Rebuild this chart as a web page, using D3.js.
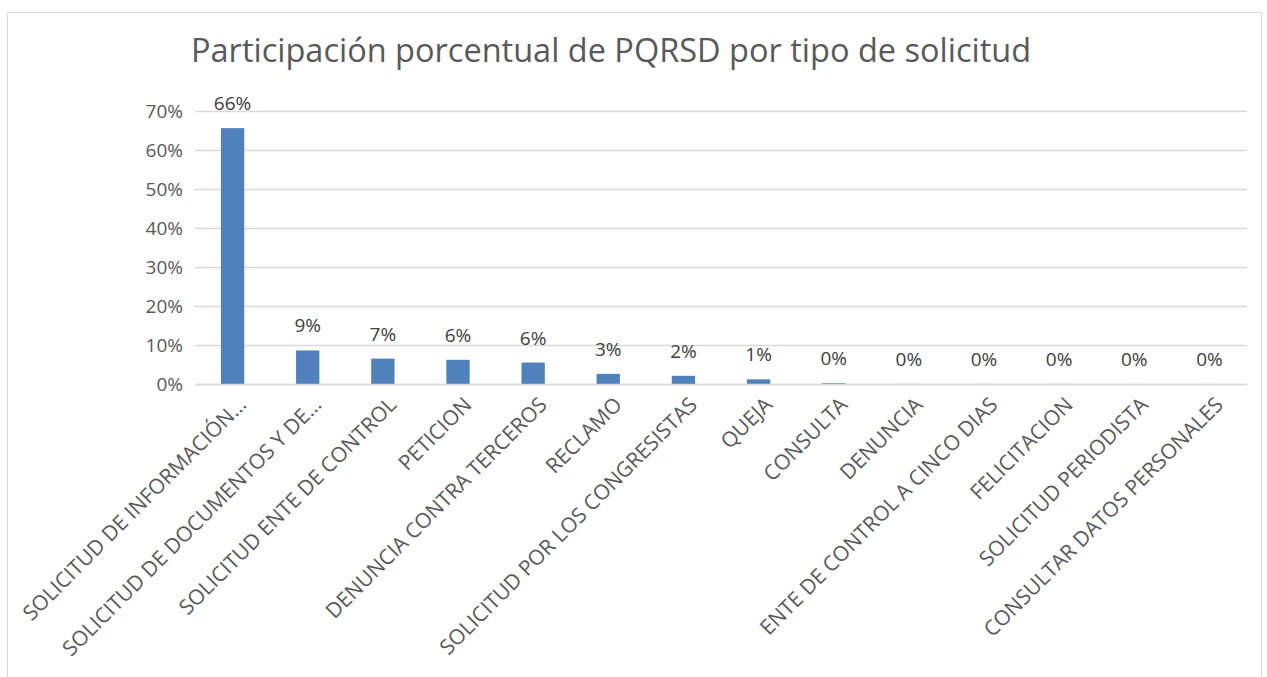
<!DOCTYPE html>
<html><head><meta charset="utf-8">
<script src="https://cdn.jsdelivr.net/npm/d3@7"></script>
<style>body{margin:0;background:#fff}text{font-family:"Open Sans",sans-serif}</style>
</head><body><svg id="c" width="1267" height="677"></svg>
<script>
const categories = ["SOLICITUD DE INFORMACIÓN…","SOLICITUD DE DOCUMENTOS Y DE…","SOLICITUD ENTE DE CONTROL","PETICION","DENUNCIA CONTRA TERCEROS","RECLAMO","SOLICITUD POR LOS CONGRESISTAS","QUEJA","CONSULTA","DENUNCIA","ENTE DE CONTROL A CINCO DIAS","FELICITACION","SOLICITUD PERIODISTA","CONSULTAR DATOS PERSONALES"];
const values = [0.656,0.086,0.065,0.062,0.055,0.026,0.021,0.012,0.002,0.0003,0.0002,0.0002,0.0001,0.0001];
const yTicks = [0,0.1,0.2,0.3,0.4,0.5,0.6,0.7];
const title = "Participación porcentual de PQRSD por tipo de solicitud";

const svg = d3.select("#c");
svg.append("rect").attr("x",7.5).attr("y",12.5).attr("width",1254).attr("height",670).attr("fill","none").attr("stroke","#D9D9D9");
const m = {l:195, r:1247, t:111, b:384};
const x = d3.scaleBand().domain(categories).range([m.l,m.r]).paddingInner(0.69).paddingOuter(0.345);
const y = d3.scaleLinear().domain([0,0.7]).range([m.b,m.t]);

svg.append("text").attr("x",191).attr("y",62).attr("font-size",32.5).attr("fill","#595959").text(title);

const ya = svg.append("g").attr("transform",`translate(${m.l},0)`)
  .call(d3.axisLeft(y).tickValues(yTicks).tickFormat(d3.format(".0%")).tickSize(-(m.r-m.l)).tickPadding(12));
ya.select(".domain").remove();
ya.selectAll("line").attr("stroke","#D9D9D9").attr("stroke-width",1.5);
ya.selectAll("text").attr("font-size",19).attr("fill","#595959").attr("font-family","Open Sans");

svg.append("g").selectAll("rect").data(values).join("rect")
  .attr("x",(d,i)=>x(categories[i])).attr("width",x.bandwidth())
  .attr("y",d=>y(d)).attr("height",d=>y(0)-y(d)).attr("fill","#4F81BD");

svg.append("g").selectAll("text").data(values).join("text")
  .attr("x",(d,i)=>x(categories[i])+x.bandwidth()/2).attr("y",d=>y(d)-18)
  .attr("text-anchor","middle").attr("font-size",19).attr("fill","#404040")
  .text(d=>d3.format(".0%")(d));

const xa = svg.append("g").attr("transform",`translate(0,${m.b})`)
  .call(d3.axisBottom(x).tickSize(0).tickPadding(0));
xa.select(".domain").attr("stroke","#D9D9D9").attr("stroke-width",1.5);
xa.selectAll("text").attr("font-size",21).attr("fill","#595959").attr("font-family","Open Sans")
  .attr("text-anchor","end").attr("dy",0)
  .attr("transform","translate(15,22) rotate(-45)");
</script></body></html>
